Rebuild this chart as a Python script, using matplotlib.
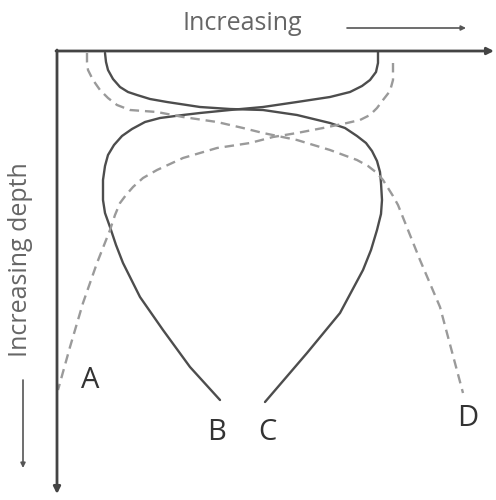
import matplotlib.pyplot as plt

# curve points (pixel units, y grows downward)
b_x = [378, 378, 376, 370, 362, 350, 330, 297, 263, 230, 200, 183, 160, 145, 132, 122, 114, 108, 105, 103, 103, 105, 110, 116, 123, 140, 163, 190, 220]
b_y = [52, 63, 72, 80, 86, 92, 97, 102, 107, 110, 113, 115, 118, 122, 129, 136, 145, 155, 166, 180, 200, 213, 227, 245, 263, 297, 330, 367, 400]

c_x = [105, 106, 108, 113, 120, 128, 137, 150, 167, 200, 230, 263, 297, 330, 345, 357, 366, 372, 377, 380, 381, 382, 381, 377, 371, 363, 340, 307, 265]
c_y = [53, 62, 70, 79, 87, 92, 95, 99, 102, 107, 109, 110, 115, 123, 128, 136, 143, 151, 161, 172, 183, 200, 214, 230, 250, 270, 313, 353, 402]

a_x = [393, 393, 390, 383, 377, 370, 360, 347, 323, 297, 273, 250, 217, 183, 157, 143, 133, 126, 120, 115, 110, 97, 83, 70, 58]
a_y = [63, 80, 91, 100, 108, 115, 120, 123, 128, 133, 137, 143, 148, 158, 170, 178, 187, 195, 203, 215, 230, 263, 303, 347, 390]

d_x = [87, 87, 88, 93, 100, 108, 117, 130, 157, 183, 217, 243, 263, 297, 330, 357, 368, 377, 383, 388, 393, 398, 410, 420, 440, 463]
d_y = [53, 62, 70, 80, 90, 98, 105, 110, 112, 117, 122, 128, 133, 140, 150, 160, 166, 173, 180, 188, 196, 205, 235, 260, 307, 393]

labels = ['A', 'B', 'C', 'D']
label_x = [90, 217, 267, 468]
label_y = [381, 433, 433, 419]

fig = plt.figure(figsize=(4.96, 5), dpi=100)
ax = fig.add_axes([0, 0, 1, 1])
ax.set_xlim(0, 496)
ax.set_ylim(500, 0)
ax.axis('off')

solid = dict(color='#4d4d4d', lw=1.7, solid_capstyle='round', solid_joinstyle='round')
dashed = dict(color='#9a9a9a', lw=1.7, dashes=(4, 2.5))

ax.plot(b_x, b_y, **solid)
ax.plot(c_x, c_y, **solid)
ax.plot(a_x, a_y, **dashed)
ax.plot(d_x, d_y, **dashed)

# axes with arrows
arr = dict(arrowstyle='-|>', color='#444444', lw=2, mutation_scale=10, shrinkA=0, shrinkB=0)
ax.annotate('', xy=(494, 51), xytext=(56, 51), arrowprops=arr)
ax.annotate('', xy=(57, 494), xytext=(57, 50), arrowprops=arr)

small = dict(arrowstyle='-|>', color='#555555', lw=1.2, mutation_scale=7, shrinkA=0, shrinkB=0)
ax.annotate('', xy=(466, 28), xytext=(347, 28), arrowprops=small)
ax.annotate('', xy=(23, 468), xytext=(23, 380), arrowprops=small)

ax.text(242, 24, 'Increasing', ha='center', va='center', fontsize=18,
        family='Open Sans', color='#666666')
ax.text(21, 260, 'Increasing depth', ha='center', va='center', fontsize=18,
        family='Open Sans', color='#666666', rotation=90)

for lab, x, y in zip(labels, label_x, label_y):
    ax.text(x, y, lab, ha='center', va='center', fontsize=21,
            family='Open Sans', color='#333333')

fig.savefig('out.png', dpi=100)
